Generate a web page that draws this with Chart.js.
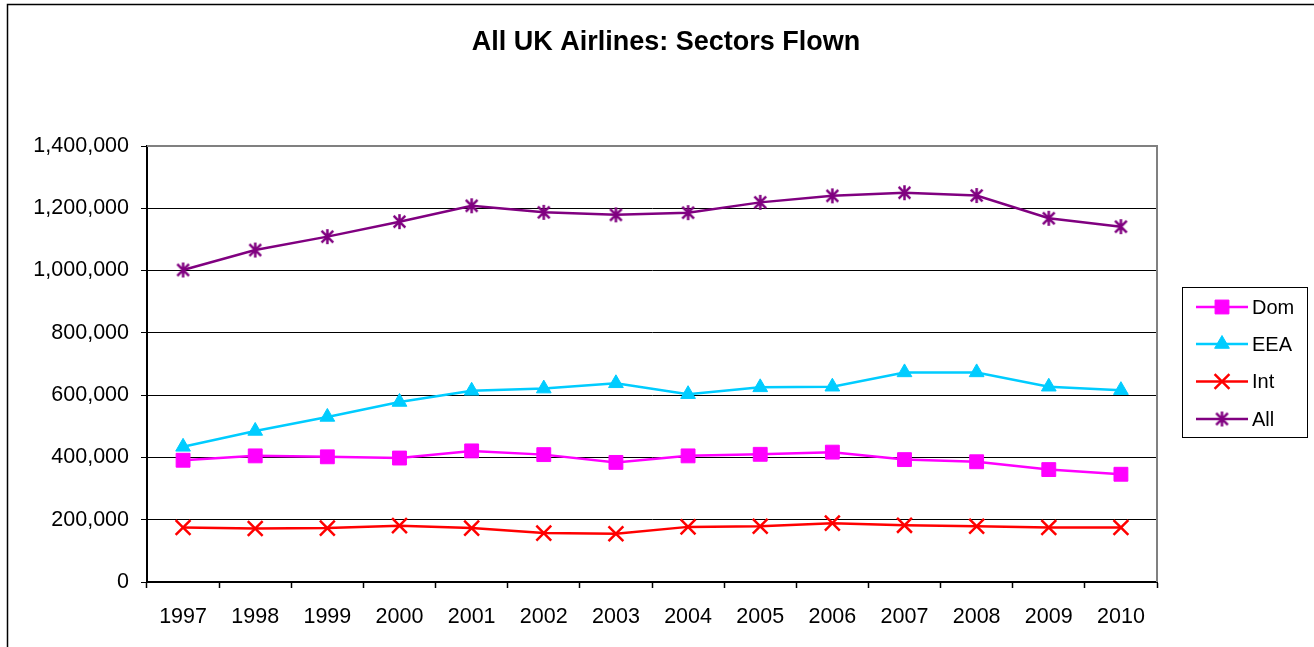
<!DOCTYPE html>
<html>
<head>
<meta charset="utf-8">
<script src="https://cdn.jsdelivr.net/npm/chart.js@4.4.0/dist/chart.umd.min.js"></script>
<style>
html,body{margin:0;padding:0;background:#fff;overflow:hidden;}
#wrap{position:relative;width:1314px;height:647px;}
</style>
</head>
<body>
<div id="wrap"><canvas id="c"></canvas></div>
<script>
const years = ['1997','1998','1999','2000','2001','2002','2003','2004','2005','2006','2007','2008','2009','2010'];
const domValues = [391000,405000,402000,398000,421000,409000,384000,405000,410000,417000,393000,386000,361000,346000];
const eeaValues = [434000,485000,530000,578000,614000,621000,638000,603000,625000,627000,673000,673000,627000,616000];
const intValues = [175000,172000,173000,181000,173000,157000,155000,177000,179000,189000,182000,179000,175000,175000];
const allValues = [1002000,1066000,1109000,1157000,1208000,1187000,1179000,1186000,1219000,1240000,1250000,1241000,1168000,1141000];
const seriesNames = ['Dom','EEA','Int','All'];
const titleText = 'All UK Airlines: Sectors Flown';
const yTickStep = 200000;
const yMax = 1400000;

const FONT = "'Liberation Sans', Arial, sans-serif";

// asterisk marker (X plus vertical bar), as in the original
function makeStar(color, size, lw) {
  const cv = document.createElement('canvas');
  cv.width = size; cv.height = size;
  const g = cv.getContext('2d');
  g.strokeStyle = color; g.lineWidth = lw; g.lineCap = 'butt';
  const m = size / 2, r = size / 2 - 1;
  const d = r * 0.78;
  g.beginPath();
  g.moveTo(m, m - r); g.lineTo(m, m + r);
  g.moveTo(m - d, m - d); g.lineTo(m + d, m + d);
  g.moveTo(m + d, m - d); g.lineTo(m - d, m + d);
  g.stroke();
  return cv;
}
const starImg = makeStar('#800080', 17, 2.5);

const styles = [
  {color:'#FF00FF', pointStyle:'rect', radius:9.8, pbw:1},
  {color:'#00CCFF', pointStyle:'triangle', radius:8.5, pbw:1},
  {color:'#FF0000', pointStyle:'crossRot', radius:10.5, pbw:2.5},
  {color:'#800080', pointStyle:starImg, radius:8.5, pbw:2.5}
];
const valueSets = [domValues, eeaValues, intValues, allValues];

const datasets = valueSets.map((vals, i) => ({
  label: seriesNames[i],
  data: vals,
  borderColor: styles[i].color,
  backgroundColor: styles[i].color,
  borderWidth: 2.5,
  pointStyle: styles[i].pointStyle,
  pointRadius: styles[i].radius,
  pointHoverRadius: styles[i].radius,
  pointBorderWidth: styles[i].pbw,
  pointBorderColor: styles[i].color,
  pointBackgroundColor: styles[i].color,
  tension: 0,
  fill: false
}));

const framePlugin = {
  id: 'frame',
  beforeDraw(chart) {
    const ctx = chart.ctx;
    ctx.save();
    ctx.fillStyle = '#fff';
    ctx.fillRect(0, 0, chart.width, chart.height);
    // outer chart border (extends beyond visible area at right/bottom)
    ctx.strokeStyle = '#000';
    ctx.lineWidth = 1.5;
    ctx.strokeRect(7.5, 4.5, chart.width + 20, chart.height + 20);
    // chart title, centred on the whole chart box
    ctx.fillStyle = '#000';
    ctx.font = 'bold 27px ' + FONT;
    ctx.textAlign = 'center';
    ctx.textBaseline = 'alphabetic';
    ctx.fillText(titleText, 666, 50);
    ctx.restore();
  },
  beforeDatasetsDraw(chart) {
    const {ctx, chartArea: a} = chart;
    ctx.save();
    ctx.strokeStyle = '#808080';
    ctx.lineWidth = 2;
    ctx.beginPath();
    ctx.moveTo(a.left, a.top);
    ctx.lineTo(a.right, a.top);
    ctx.lineTo(a.right, a.bottom);
    ctx.stroke();
    ctx.restore();
  }
};

const legendPlugin = {
  id: 'customLegend',
  afterDraw(chart) {
    const ctx = chart.ctx;
    const bx = 1182, by = 287, bw = 125, bh = 150;
    ctx.save();
    ctx.strokeStyle = '#000';
    ctx.lineWidth = 1;
    ctx.strokeRect(bx + 0.5, by + 0.5, bw, bh);
    const rows = [307, 344, 381.5, 419];
    chart.data.datasets.forEach((ds, i) => {
      const y = rows[i];
      ctx.strokeStyle = ds.borderColor;
      ctx.lineWidth = 2.5;
      ctx.beginPath();
      ctx.moveTo(1196, y);
      ctx.lineTo(1248, y);
      ctx.stroke();
      ctx.fillStyle = ds.pointBackgroundColor;
      ctx.strokeStyle = ds.pointBorderColor;
      ctx.lineWidth = ds.pointBorderWidth;
      Chart.helpers.drawPoint(ctx, {
        pointStyle: ds.pointStyle,
        rotation: 0,
        radius: ds.pointRadius,
        borderWidth: ds.pointBorderWidth
      }, 1222, y);
      ctx.fillStyle = '#000';
      ctx.font = '20px ' + FONT;
      ctx.textAlign = 'left';
      ctx.textBaseline = 'middle';
      ctx.fillText(ds.label, 1252, y + 1);
    });
    ctx.restore();
  }
};

new Chart(document.getElementById('c'), {
  type: 'line',
  data: { labels: years, datasets },
  options: {
    responsive: true,
    maintainAspectRatio: false,
    animation: false,
    devicePixelRatio: 1,
    layout: { padding: { left: 18, right: 157, top: 146, bottom: 0 } },
    plugins: {
      legend: { display: false },
      tooltip: { enabled: false },
      title: { display: false }
    },
    scales: {
      x: {
        type: 'category',
        offset: true,
        grid: { offset: true, drawOnChartArea: false, drawTicks: true, tickLength: 6, tickColor: '#000', tickWidth: 1.5 },
        border: { color: '#000', width: 2 },
        ticks: { color: '#000', font: { family: FONT, size: 21.5 }, padding: 16, maxRotation: 0, autoSkip: false },
        afterFit(s) { s.height = 65; }
      },
      y: {
        min: 0,
        max: yMax,
        ticks: {
          stepSize: yTickStep,
          color: '#000',
          font: { family: FONT, size: 21.5 },
          padding: 12,
          callback: v => v.toLocaleString('en-US')
        },
        grid: { color: '#000', lineWidth: 1, tickLength: 6, tickColor: '#000' },
        border: { color: '#000', width: 2 },
        afterFit(s) { s.width = 129; }
      }
    }
  },
  plugins: [framePlugin, legendPlugin]
});
</script>
</body>
</html>
